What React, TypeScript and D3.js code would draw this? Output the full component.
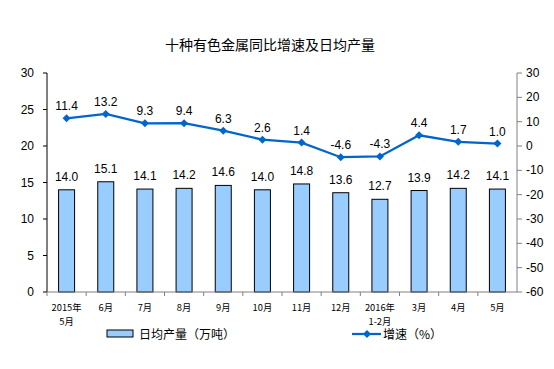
import React from 'react';
import * as d3 from 'd3';

const categories = ['2015年\n5月', '6月', '7月', '8月', '9月', '10月', '11月', '12月', '2016年\n1-2月', '3月', '4月', '5月'];
const output = [14.0, 15.1, 14.1, 14.2, 14.6, 14.0, 14.8, 13.6, 12.7, 13.9, 14.2, 14.1];
const growth = [11.4, 13.2, 9.3, 9.4, 6.3, 2.6, 1.4, -4.6, -4.3, 4.4, 1.7, 1.0];
const leftTicks = [0, 5, 10, 15, 20, 25, 30];
const rightTicks = [-60, -50, -40, -30, -20, -10, 0, 10, 20, 30];

const W = 554;
const H = 369;
const margin = { top: 73, right: 37, bottom: 77, left: 47 };
const FONT = '"Liberation Sans", Arial, "Noto Sans CJK SC", sans-serif';
const CJK = '"Noto Sans CJK SC", "Liberation Sans", sans-serif';

export default function App() {
  const x0 = margin.left;
  const x1 = W - margin.right;
  const y0 = H - margin.bottom;
  const y1 = margin.top;

  const x = d3.scaleBand().domain(categories).range([x0, x1]);
  const yL = d3.scaleLinear().domain([0, 30]).range([y0, y1]);
  const yR = d3.scaleLinear().domain([-60, 30]).range([y0, y1]);
  const barW = 16;
  const cx = (c: string) => (x(c) ?? 0) + x.bandwidth() / 2;

  const line = d3.line<number>()
    .x((_, i) => cx(categories[i]))
    .y(d => yR(d));

  const diamond = (px: number, py: number, r = 4) =>
    `M${px},${py - r}L${px + r},${py}L${px},${py + r}L${px - r},${py}Z`;

  return (
    <svg width={W} height={H} style={{ position: 'absolute', left: 0, top: 0, background: '#fff' }}>
      <text x={270} y={50} textAnchor="middle" fontFamily={CJK} fontSize={14} fill="#000">
        十种有色金属同比增速及日均产量
      </text>

      {/* bars */}
      {output.map((v, i) => (
        <g key={'b' + i}>
          <rect
            x={cx(categories[i]) - barW / 2}
            y={yL(v)}
            width={barW}
            height={y0 - yL(v)}
            fill="#99CCFF"
            stroke="#000"
            strokeWidth={1}
          />
          <text x={cx(categories[i])} y={yL(v) - 9} textAnchor="middle" fontFamily={FONT} fontSize={12} fill="#000">
            {v.toFixed(1)}
          </text>
        </g>
      ))}

      {/* left axis */}
      <line x1={x0} x2={x0} y1={y1} y2={y0} stroke="#000" />
      {leftTicks.map(t => (
        <g key={'l' + t}>
          <line x1={x0 - 4} x2={x0} y1={yL(t)} y2={yL(t)} stroke="#000" />
          <text x={34} y={yL(t) + 4} textAnchor="end" fontFamily={FONT} fontSize={12} fill="#000">{t}</text>
        </g>
      ))}

      {/* right axis */}
      <line x1={x1} x2={x1} y1={y1} y2={y0} stroke="#808080" />
      {rightTicks.map(t => (
        <g key={'r' + t}>
          <line x1={x1} x2={x1 + 5} y1={yR(t)} y2={yR(t)} stroke="#808080" />
          <text x={526} y={yR(t) + 4} textAnchor="start" fontFamily={FONT} fontSize={12} fill="#000">{t}</text>
        </g>
      ))}

      {/* x axis */}
      <line x1={x0} x2={x1} y1={y0} y2={y0} stroke="#808080" />
      {categories.map((c, i) => (
        <g key={'x' + i}>
          <line x1={(x(c) ?? 0)} x2={(x(c) ?? 0)} y1={y0} y2={y0 + 4} stroke="#808080" />
          {c.split('\n').map((s, j) => (
            <text key={j} x={cx(c)} y={311 + j * 13.5} textAnchor="middle" fontFamily={CJK} fontSize={9.3} fill="#000">{s}</text>
          ))}
        </g>
      ))}

      {/* growth line */}
      <path d={line(growth) ?? ''} fill="none" stroke="#0066CC" strokeWidth={2.25} />
      {growth.map((v, i) => (
        <g key={'p' + i}>
          <path d={diamond(cx(categories[i]), yR(v))} fill="#0066CC" />
          <text x={cx(categories[i])} y={yR(v) - 8} textAnchor="middle" fontFamily={FONT} fontSize={12} fill="#000">
            {v.toFixed(1)}
          </text>
        </g>
      ))}

      {/* legend */}
      <rect x={107} y={330} width={26} height={7} fill="#99CCFF" stroke="#000" />
      <text x={139} y={339} fontFamily={CJK} fontSize={12} fill="#000">日均产量（万吨）</text>
      <line x1={352} x2={381} y1={334} y2={334} stroke="#0066CC" strokeWidth={2.25} />
      <path d={diamond(367, 334)} fill="#0066CC" />
      <text x={383} y={339} fontFamily={CJK} fontSize={12} fill="#000">增速（%）</text>
    </svg>
  );
}
